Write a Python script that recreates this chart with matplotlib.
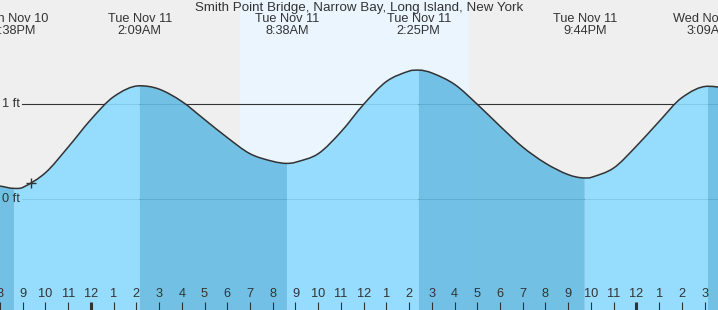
import numpy as np
import matplotlib
matplotlib.use('Agg')
import matplotlib.pyplot as plt
import matplotlib.transforms as mtransforms
from matplotlib.path import Path
from matplotlib.patches import PathPatch

plt.rcParams['font.family'] = ['Liberation Sans', 'DejaVu Sans']

# hours counted from midnight, Tue Nov 11
hours = list(range(-4, 29))
height_ft = [0.14, 0.125, 0.28, 0.55, 0.84, 1.08, 1.19, 1.16, 1.03, 0.84,
             0.65, 0.48, 0.40, 0.39, 0.48, 0.71, 1.00, 1.24, 1.35, 1.33,
             1.21, 1.00, 0.77, 0.55, 0.38, 0.26, 0.23, 0.33, 0.56, 0.82,
             1.07, 1.185, 1.17]

# highs and lows
event_t = [-3.37, 2.15, 8.63, 14.42, 21.73, 27.15]
event_h = [0.115, 1.195, 0.378, 1.36, 0.225, 1.19]
event_day = ['Mon Nov 10', 'Tue Nov 11', 'Tue Nov 11', 'Tue Nov 11', 'Tue Nov 11', 'Wed Nov 12']
event_time = ['8:38PM', '2:09AM', '8:38AM', '2:25PM', '9:44PM', '3:09AM']

tick_t = list(range(-4, 28))
tick_labels = ['8', '9', '10', '11', '12', '1', '2', '3', '4', '5', '6', '7', '8', '9', '10', '11',
               '12', '1', '2', '3', '4', '5', '6', '7', '8', '9', '10', '11', '12', '1', '2', '3']
midnights = [0, 24]

sunrise, sunset = 6.58, 16.65
now_t, now_h = -2.65, 0.17

title = 'Smith Point Bridge, Narrow Bay, Long Island, New York'

W, H = 718, 310
FS = 9.2
TXT = '#333333'
fig = plt.figure(figsize=(W / 100, H / 100), dpi=100)
fig.patch.set_facecolor('#efefef')
ax = fig.add_axes([0, 0, 1, 1])
ax.set_facecolor('#efefef')
ax.set_xlim(-3.97, 27.59)
ax.set_ylim(-1.165, 2.098)
for s in ax.spines.values():
    s.set_visible(False)
ybot = -1.165

ax.axvspan(sunrise, sunset, color='#ebf5fe', zorder=0, lw=0)

# reference lines (under the semi transparent water)
ax.axhline(1, xmin=22 / W, color=TXT, lw=0.8, zorder=1)
ax.axhline(0, xmin=22 / W, color=TXT, lw=0.8, zorder=1)
ytrans = mtransforms.blended_transform_factory(ax.transAxes, ax.transData)
ax.text(19.5 / W, 1, '1 ft', transform=ytrans, ha='right', va='center', fontsize=FS, color=TXT)
ax.text(19.5 / W, 0, '0 ft', transform=ytrans, ha='right', va='center', fontsize=FS, color=TXT, zorder=5)

# merge readings, drop hourly ones sitting on a high/low
keep = [i for i, t in enumerate(hours) if min(abs(t - e) for e in event_t) > 0.2]
t_all = np.array([hours[i] for i in keep] + event_t, float)
h_all = np.array([height_ft[i] for i in keep] + event_h, float)
order = np.argsort(t_all)
t_all, h_all = t_all[order], h_all[order]
slope = np.zeros_like(h_all)
slope[1:-1] = (h_all[2:] - h_all[:-2]) / (t_all[2:] - t_all[:-2])
slope[0] = (h_all[1] - h_all[0]) / (t_all[1] - t_all[0])
slope[-1] = (h_all[-1] - h_all[-2]) / (t_all[-1] - t_all[-2])
slope[np.isin(t_all, event_t)] = 0
ev_idx = [int(np.where(t_all == e)[0][0]) for e in event_t]


def curve_verts(i0, i1):
    verts = [(t_all[i0], h_all[i0])]
    for i in range(i0, i1):
        dt = t_all[i + 1] - t_all[i]
        verts += [(t_all[i] + dt / 3, h_all[i] + slope[i] * dt / 3),
                  (t_all[i + 1] - dt / 3, h_all[i + 1] - slope[i + 1] * dt / 3),
                  (t_all[i + 1], h_all[i + 1])]
    return verts


breaks = [0] + ev_idx + [len(t_all) - 1]
for a, b in zip(breaks[:-1], breaks[1:]):
    if a == b:
        continue
    cv = curve_verts(a, b)
    verts = [(t_all[a], ybot)] + cv + [(t_all[b], ybot), (t_all[a], ybot)]
    codes = [Path.MOVETO, Path.LINETO] + [Path.CURVE4] * (len(cv) - 1) + [Path.LINETO, Path.CLOSEPOLY]
    col = '#8cdaff' if h_all[b] > h_all[a] else '#65bbe3'
    ax.add_patch(PathPatch(Path(verts, codes), fc=col, ec='none', alpha=0.9, zorder=2))

cv = curve_verts(0, len(t_all) - 1)
codes = [Path.MOVETO] + [Path.CURVE4] * (len(cv) - 1)
ax.add_patch(PathPatch(Path(cv, codes), fill=False, ec=TXT, lw=1.1, zorder=3))

ax.plot(now_t, now_h, '+', ms=7, mew=1, color=TXT, zorder=4)

# high / low labels
xtrans = mtransforms.blended_transform_factory(ax.transData, ax.transAxes)
for t, d, s in zip(event_t, event_day, event_time):
    ax.text(t, 1 - 19.5 / H, d, transform=xtrans, ha='center', va='center', fontsize=FS, color=TXT)
    ax.text(t, 1 - 31.5 / H, s, transform=xtrans, ha='center', va='center', fontsize=FS, color=TXT)

fig.text(0.5, 1 - 7.5 / H, title, ha='center', va='center', fontsize=9.6, color=TXT)

# hour ticks
major = [t for t in tick_t if t in midnights]
minor = [t for t in tick_t if t not in midnights]
ax.set_xticks(major, [tick_labels[tick_t.index(t)] for t in major])
ax.set_xticks(minor, [tick_labels[tick_t.index(t)] for t in minor], minor=True)
ax.set_yticks([])
ax.tick_params(axis='x', which='both', direction='in', pad=-16, labelsize=FS,
               colors=TXT, length=5.8)
ax.tick_params(axis='x', which='major', width=2.2)
ax.tick_params(axis='x', which='minor', width=0.8)
ax.xaxis.set_zorder(6)

fig.savefig('out.png', dpi=100, facecolor=fig.get_facecolor())
